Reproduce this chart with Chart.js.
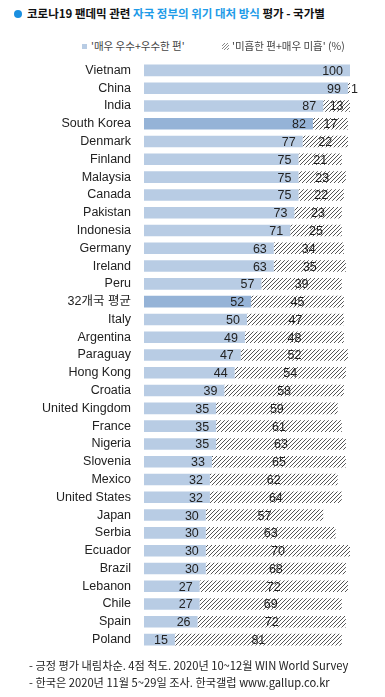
<!DOCTYPE html>
<html>
<head>
<meta charset="utf-8">
<script src="https://cdn.jsdelivr.net/npm/chart.js@4"></script>
<style>
  body { margin: 0; background: #fff; font-family: "Liberation Sans", "Noto Sans CJK KR", sans-serif; }
  #wrap { position: relative; width: 385px; height: 697px; overflow: hidden; }
  .title { position: absolute; left: 14px; top: 5px; font-size: 11.5px; font-weight: bold; color: #111;
           font-family: "Noto Sans CJK KR", sans-serif; white-space: nowrap; }
  .title .dot { display: inline-block; width: 8px; height: 8px; border-radius: 50%; background: #1a8fe0;
                margin-right: 5px; vertical-align: 0px; }
  .title .hl { color: #1e9be8; }
  .legend { position: absolute; top: 38px; font-size: 10.5px; color: #444; white-space: nowrap;
            font-family: "Noto Sans CJK KR", sans-serif; }
  .sq { display: inline-block; width: 5px; height: 5px; background: #b8cce4; margin-right: 4px; vertical-align: 1px; }
  #hatchIcon { display: inline-block; vertical-align: 0px; margin-right: 3px; }
  .foot { position: absolute; left: 29px; font-size: 11.2px; color: #222; white-space: nowrap;
          font-family: "Noto Sans CJK KR", sans-serif; }
  #chart { position: absolute; left: 0; top: 41px; }
</style>
</head>
<body>
<div id="wrap">
  <div class="title"><span class="dot"></span>코로나19 팬데믹 관련 <span class="hl">자국 정부의 위기 대처 방식</span> 평가 - 국가별</div>
  <div class="legend" style="left:82px"><span class="sq"></span>'매우 우수+우수한 편'</div>
  <div class="legend" style="left:222px"><canvas id="hatchIcon" width="7" height="7"></canvas>'미흡한 편+매우 미흡' (%)</div>
  <canvas id="chart" width="385" height="628"></canvas>
  <div class="foot" style="top:657px">- 긍정 평가 내림차순. 4점 척도. 2020년 10~12월 WIN World Survey</div>
  <div class="foot" style="top:674px">- 한국은 2020년 11월 5~29일 조사. 한국갤럽 www.gallup.co.kr</div>
</div>
<script>
// data
const countries = ["Vietnam", "China", "India", "South Korea", "Denmark", "Finland", "Malaysia", "Canada",
  "Pakistan", "Indonesia", "Germany", "Ireland", "Peru", "32개국 평균", "Italy", "Argentina", "Paraguay",
  "Hong Kong", "Croatia", "United Kingdom", "France", "Nigeria", "Slovenia", "Mexico", "United States",
  "Japan", "Serbia", "Ecuador", "Brazil", "Lebanon", "Chile", "Spain", "Poland"];
const positive = [100, 99, 87, 82, 77, 75, 75, 75, 73, 71, 63, 63, 57, 52, 50, 49, 47, 44, 39, 35, 35, 35,
  33, 32, 32, 30, 30, 30, 30, 27, 27, 26, 15];
const negative = [0, 1, 13, 17, 22, 21, 23, 22, 23, 25, 34, 35, 39, 45, 47, 48, 52, 54, 58, 59, 61, 63,
  65, 62, 64, 57, 63, 70, 68, 72, 69, 72, 81];
const highlighted = ["South Korea", "32개국 평균"];

// hatch pattern, crisp 1px diagonal every 4px
function makeHatch(size, color) {
  const c = document.createElement("canvas");
  c.width = size; c.height = size;
  const g = c.getContext("2d");
  g.fillStyle = color;
  for (let i = 0; i < size; i++) g.fillRect(i, size - 1 - i, 1, 1);
  return c;
}
const ctx = document.getElementById("chart").getContext("2d");
const hatch = ctx.createPattern(makeHatch(4, "#555"), "repeat");

// legend icon
const ic = document.getElementById("hatchIcon").getContext("2d");
ic.fillStyle = ic.createPattern(makeHatch(3, "#888"), "repeat");
ic.fillRect(0, 0, 7, 7);

const barColors = countries.map(c => highlighted.includes(c) ? "#95b3d7" : "#b8cce4");

// value labels
const valueLabels = {
  id: "valueLabels",
  afterDatasetsDraw(chart) {
    const c = chart.ctx;
    c.save();
    c.font = "12.5px 'Liberation Sans', sans-serif";
    c.fillStyle = "#222";
    c.textBaseline = "middle";
    chart.getDatasetMeta(0).data.forEach((bar, i) => {
      c.textAlign = "right";
      c.fillText(positive[i], bar.x - 7, bar.y + 1);
    });
    chart.getDatasetMeta(1).data.forEach((bar, i) => {
      const v = negative[i];
      if (!v) return;
      const w = bar.x - bar.base;
      const tw = c.measureText(String(v)).width;
      if (w < tw + 2) {
        c.textAlign = "left";
        c.fillText(v, bar.x + 1, bar.y + 1);
      } else {
        c.textAlign = "center";
        c.fillText(v, (bar.x + bar.base) / 2, bar.y + 1);
      }
    });
    c.restore();
  }
};

new Chart(ctx, {
  type: "bar",
  data: {
    labels: countries,
    datasets: [
      { label: "'매우 우수+우수한 편'", data: positive, backgroundColor: barColors,
        barPercentage: 0.65, categoryPercentage: 1 },
      { label: "'미흡한 편+매우 미흡'", data: negative, backgroundColor: hatch,
        barPercentage: 0.65, categoryPercentage: 1 }
    ]
  },
  options: {
    indexAxis: "y",
    responsive: false,
    animation: false,
    // the y ticks padding (13) also pads the chart area top and bottom
    layout: { padding: { top: 0, bottom: 0, right: 35, left: 0 } },
    plugins: { legend: { display: false }, tooltip: { enabled: false } },
    scales: {
      x: { stacked: true, min: 0, max: 100, display: false },
      y: {
        stacked: true,
        grid: { display: false, drawTicks: false },
        border: { display: false },
        ticks: {
          color: "#222",
          padding: 13,
          autoSkip: false,
          font: { family: "'Liberation Sans', 'Noto Sans CJK KR', sans-serif", size: 12.5 }
        },
        afterFit(scale) { scale.width = 144; }
      }
    }
  },
  plugins: [valueLabels]
});
</script>
</body>
</html>
